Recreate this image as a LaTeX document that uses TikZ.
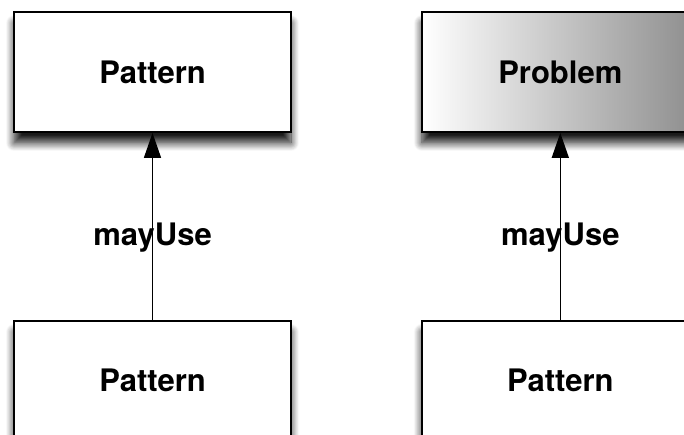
\documentclass[tikz,border=0pt]{standalone}
\usepackage{fontspec}
\setmainfont{TeX Gyre Heros}
\usetikzlibrary{arrows.meta,positioning,shadows.blur}

\begin{document}
\begin{tikzpicture}[x=1pt, y=1pt, node distance=187pt and 129pt,
  every node/.style={font=\fontsize{31}{36}\selectfont\bfseries},
  box/.style={draw=black, line width=1.8pt, fill=white, minimum width=277pt, minimum height=120pt, inner sep=0pt,
    blur shadow={shadow xshift=0pt, shadow yshift=-11pt, shadow blur radius=8pt, shadow blur steps=10, shadow opacity=90}},
  shadedbox/.style={box, left color=white, right color=black!45},
  mayuse/.style={-{Triangle[length=25pt,width=17pt]}, line width=1.5pt}]
  \useasboundingbox (0,0) rectangle (684,434);
  \node[box] (topL) at (152.5,362) {Pattern};
  \node[shadedbox, right=of topL] (topR) {Problem};
  \node[box, below=of topL] (botL) {Pattern};
  \node[box, below=of topR] (botR) {Pattern};
  \draw[mayuse] (botL.north) -- node[pos=0.44] {mayUse} (topL.south);
  \draw[mayuse] (botR.north) -- node[pos=0.44] {mayUse} (topR.south);
\end{tikzpicture}
\end{document}
